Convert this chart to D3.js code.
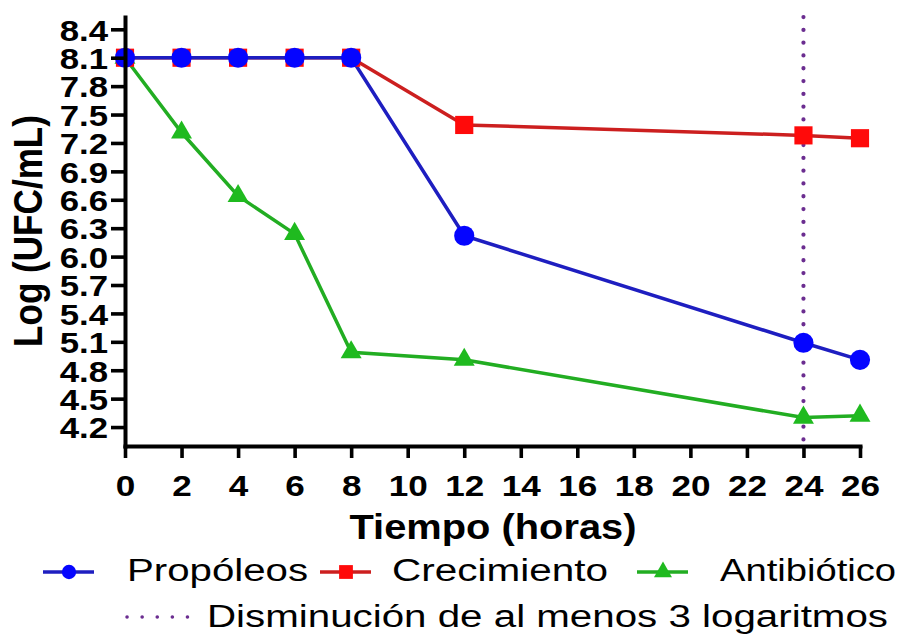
<!DOCTYPE html>
<html><head><meta charset="utf-8">
<script src="https://cdn.jsdelivr.net/npm/d3@7"></script>
<style>body{margin:0;background:#fff}svg{display:block}</style>
</head><body>
<svg id="c" width="906" height="635"></svg>
<script>
const hours = [0, 2, 4, 6, 8, 12, 24, 26];
const propoleos = [8.1, 8.1, 8.1, 8.1, 8.1, 6.22, 5.09, 4.91];
const crecimiento = [8.1, 8.1, 8.1, 8.1, 8.1, 7.39, 7.28, 7.25];
const antibiotico = [8.1, 7.31, 6.64, 6.24, 4.99, 4.91, 4.30, 4.32];
const yTicks = [4.2, 4.5, 4.8, 5.1, 5.4, 5.7, 6.0, 6.3, 6.6, 6.9, 7.2, 7.5, 7.8, 8.1, 8.4];
const xTicks = [0, 2, 4, 6, 8, 10, 12, 14, 16, 18, 20, 22, 24, 26];
const threshold = 24;
const seriesNames = ["Propóleos", "Crecimiento", "Antibiótico"];
const thresholdLabel = "Disminución de al menos 3 logaritmos";

const svg = d3.select("#c");
const x = d3.scaleLinear().domain([0, 26]).range([125, 860]);
const y = d3.scaleLinear().domain([4.0, 8.53]).range([446, 17]);

const FONT = "'Liberation Sans', Arial, Helvetica, sans-serif";

// threshold dotted line
svg.append("line")
  .attr("x1", x(threshold)).attr("x2", x(threshold))
  .attr("y1", y(8.53)).attr("y2", y(4.0))
  .attr("stroke", "#6b2d90").attr("stroke-width", 4.2)
  .attr("stroke-linecap", "round").attr("stroke-dasharray", "0.1 12.7");

const series = [
  {vals: antibiotico, line: "#22ad22", fill: "#1fba1f", sym: d3.symbolTriangle, size: 190},
  {vals: crecimiento, line: "#cc1f1f", fill: "#ff0a0a", sym: d3.symbolSquare, size: 330},
  {vals: propoleos, line: "#1e1ec0", fill: "#0505ff", sym: d3.symbolCircle, size: 320}
];

const lineGen = d3.line().x((d, i) => x(hours[i])).y(d => y(d));
series.forEach(s => {
  svg.append("path").datum(s.vals).attr("d", lineGen)
    .attr("fill", "none").attr("stroke", s.line).attr("stroke-width", 3.5);
});
series.forEach(s => {
  svg.append("g").selectAll("path").data(s.vals).join("path")
    .attr("transform", (d, i) => `translate(${x(hours[i])},${y(d)})`)
    .attr("d", d3.symbol().type(s.sym).size(s.size))
    .attr("fill", s.fill);
});

// axes
const yAxis = svg.append("g").attr("transform", `translate(${x(0)},0)`)
  .call(d3.axisLeft(y).tickValues(yTicks).tickFormat(d3.format(".1f")).tickSize(14).tickPadding(4).tickSizeOuter(0));
const xAxis = svg.append("g").attr("transform", `translate(0,${y(4.0)})`)
  .call(d3.axisBottom(x).tickValues(xTicks).tickSize(12).tickPadding(17).tickSizeOuter(0));
[yAxis, xAxis].forEach(a => {
  a.select(".domain").attr("stroke", "#000").attr("stroke-width", 4).attr("stroke-linecap", "square");
  a.selectAll(".tick line").attr("stroke", "#000").attr("stroke-width", 3.6);
  a.selectAll("text").attr("fill", "#000").attr("font-family", FONT).attr("font-weight", "bold").attr("font-size", 30);
});
yAxis.selectAll(".tick text").attr("transform", "scale(1.16,1)").attr("x", -17 / 1.16).attr("dy", "0.36em");
xAxis.selectAll(".tick text").attr("transform", "scale(1.17,1)").attr("x", 0);

// axis titles
svg.append("text").attr("x", 493).attr("y", 539)
  .attr("text-anchor", "middle").attr("font-family", FONT).attr("font-weight", "bold")
  .attr("font-size", 35).attr("textLength", 287).attr("lengthAdjust", "spacingAndGlyphs")
  .text("Tiempo (horas)");
svg.append("text").attr("transform", "translate(42,231) rotate(-90)")
  .attr("text-anchor", "middle").attr("font-family", FONT).attr("font-weight", "bold")
  .attr("font-size", 40).attr("textLength", 232).attr("lengthAdjust", "spacingAndGlyphs")
  .text("Log (UFC/mL)");

// legend
const legendItems = [
  {name: seriesNames[0], s: series[2], x0: 43, tx: 127, tw: 181, lsize: 160},
  {name: seriesNames[1], s: series[1], x0: 320, tx: 392, tw: 216, lsize: 190},
  {name: seriesNames[2], s: series[0], x0: 637, tx: 720, tw: 176, lsize: 140}
];
const ly = 572;
legendItems.forEach(it => {
  svg.append("line").attr("x1", it.x0).attr("x2", it.x0 + 51).attr("y1", ly).attr("y2", ly)
    .attr("stroke", it.s.line).attr("stroke-width", 3.5);
  svg.append("path").attr("transform", `translate(${it.x0 + 26},${ly})`)
    .attr("d", d3.symbol().type(it.s.sym).size(it.lsize)).attr("fill", it.s.fill);
  svg.append("text").attr("x", it.tx).attr("y", 581).attr("font-family", FONT)
    .attr("font-size", 31).attr("textLength", it.tw).attr("lengthAdjust", "spacingAndGlyphs")
    .attr("fill", "#000").text(it.name);
});
svg.append("line").attr("x1", 127).attr("x2", 188).attr("y1", 617).attr("y2", 617)
  .attr("stroke", "#6b2d90").attr("stroke-width", 3.5)
  .attr("stroke-linecap", "round").attr("stroke-dasharray", "0.1 15");
svg.append("text").attr("x", 207).attr("y", 627).attr("font-family", FONT)
  .attr("font-size", 31).attr("textLength", 681).attr("lengthAdjust", "spacingAndGlyphs")
  .attr("fill", "#000").text(thresholdLabel);
</script>
</body></html>
